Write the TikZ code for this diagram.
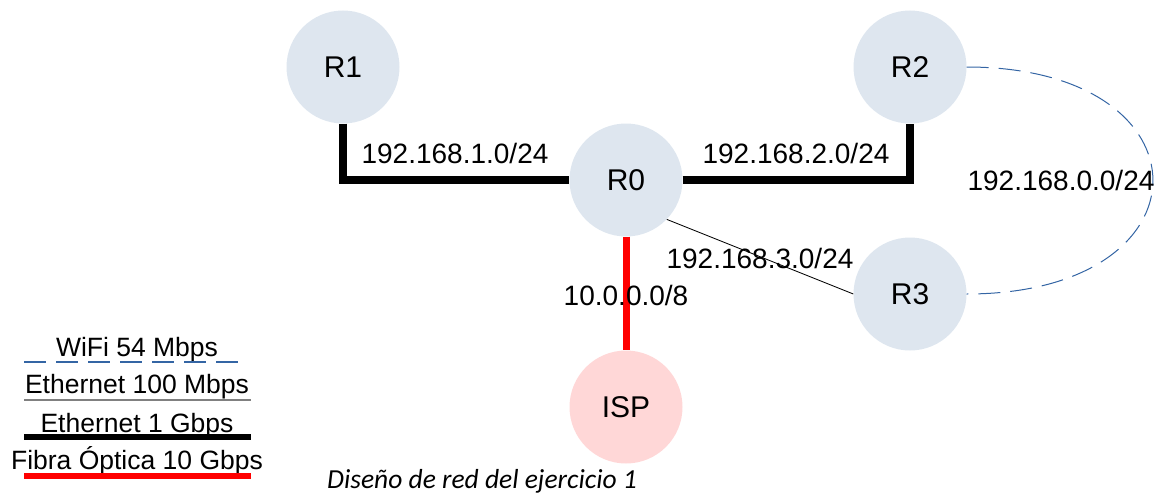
\documentclass[tikz,border=0pt]{standalone}
\usepackage{fontspec}
\setmainfont{Liberation Sans}
\newfontfamily\captionfont{Carlito}
\usepackage{tikz}
\usetikzlibrary{shapes.geometric, arrows}
\definecolor{routerfill}{HTML}{DEE6EF}
\definecolor{ispfill}{HTML}{FFD7D7}
\definecolor{wifiblue}{HTML}{3465A4}
\tikzstyle{router} = [circle, minimum size=113pt, inner sep=0pt, fill=routerfill, font=\fontsize{30}{36}\selectfont]
\tikzstyle{isp} = [router, fill=ispfill]
\tikzstyle{net} = [anchor=base, inner sep=0pt, font=\fontsize{28}{33}\selectfont]
\tikzstyle{legend} = [anchor=base, inner sep=0pt, font=\fontsize{26.5}{32}\selectfont]
\tikzstyle{ethgiga} = [line width=8pt, black]
\tikzstyle{ethfast} = [line width=0.8pt, black]
\tikzstyle{fibra} = [line width=7pt, red]
\tikzstyle{wifi} = [line width=1pt, wifiblue, dash pattern=on 22pt off 10pt]

\begin{document}
\begin{tikzpicture}[x=1pt, y=-1pt]
    \useasboundingbox (0,0) rectangle (1155,495);
    \node (r1) [router] at (343,67) {R1};
    \node (r2) [router] at (910,67) {R2};
    \node (r0) [router] at (626,180) {R0};
    \node (r3) [router] at (910,294) {R3};
    \node (isp) [isp] at (626,407) {ISP};

    \draw [ethgiga] (r1.south) |- (r0.west);
    \draw [ethgiga] (r0.east) -| (r2.south);
    \draw [ethfast] (r0.-44) -- (r3.west);
    \draw [fibra] (r0.south) -- (isp.north);
    \draw [wifi] (r2.east) .. controls (1215,67) and (1215,294) .. (r3.east);

    \node (net1) [net] at (455,163) {192.168.1.0/24};
    \node (net2) [net] at (796,163) {192.168.2.0/24};
    \node (net0) [net] at (1061,190) {192.168.0.0/24};
    \node (net3) [net] at (760,268) {192.168.3.0/24};
    \node (wan) [net] at (626,305) {10.0.0.0/8};

    % leyenda
    \node (leg wifi) [legend] at (137,356) {WiFi 54 Mbps};
    \node (leg eth100) [legend] at (137,393) {Ethernet 100 Mbps};
    \node (leg eth1g) [legend] at (137,432) {Ethernet 1 Gbps};
    \node (leg fibra) [legend] at (137,469) {Fibra Óptica 10 Gbps};
    \draw [wifi, line width=1.5pt] (24,362) -- (242,362);
    \draw [ethfast, gray, line width=1.5pt] (24,400) -- (251,400);
    \draw [ethgiga, line width=6pt] (24,437) -- (251,437);
    \draw [fibra, line width=6pt] (24,476) -- (251,476);

    \node (caption) [anchor=base, font=\fontsize{27.5}{33}\captionfont\itshape] at (482,488) {Diseño de red del ejercicio 1};
\end{tikzpicture}
\end{document}
